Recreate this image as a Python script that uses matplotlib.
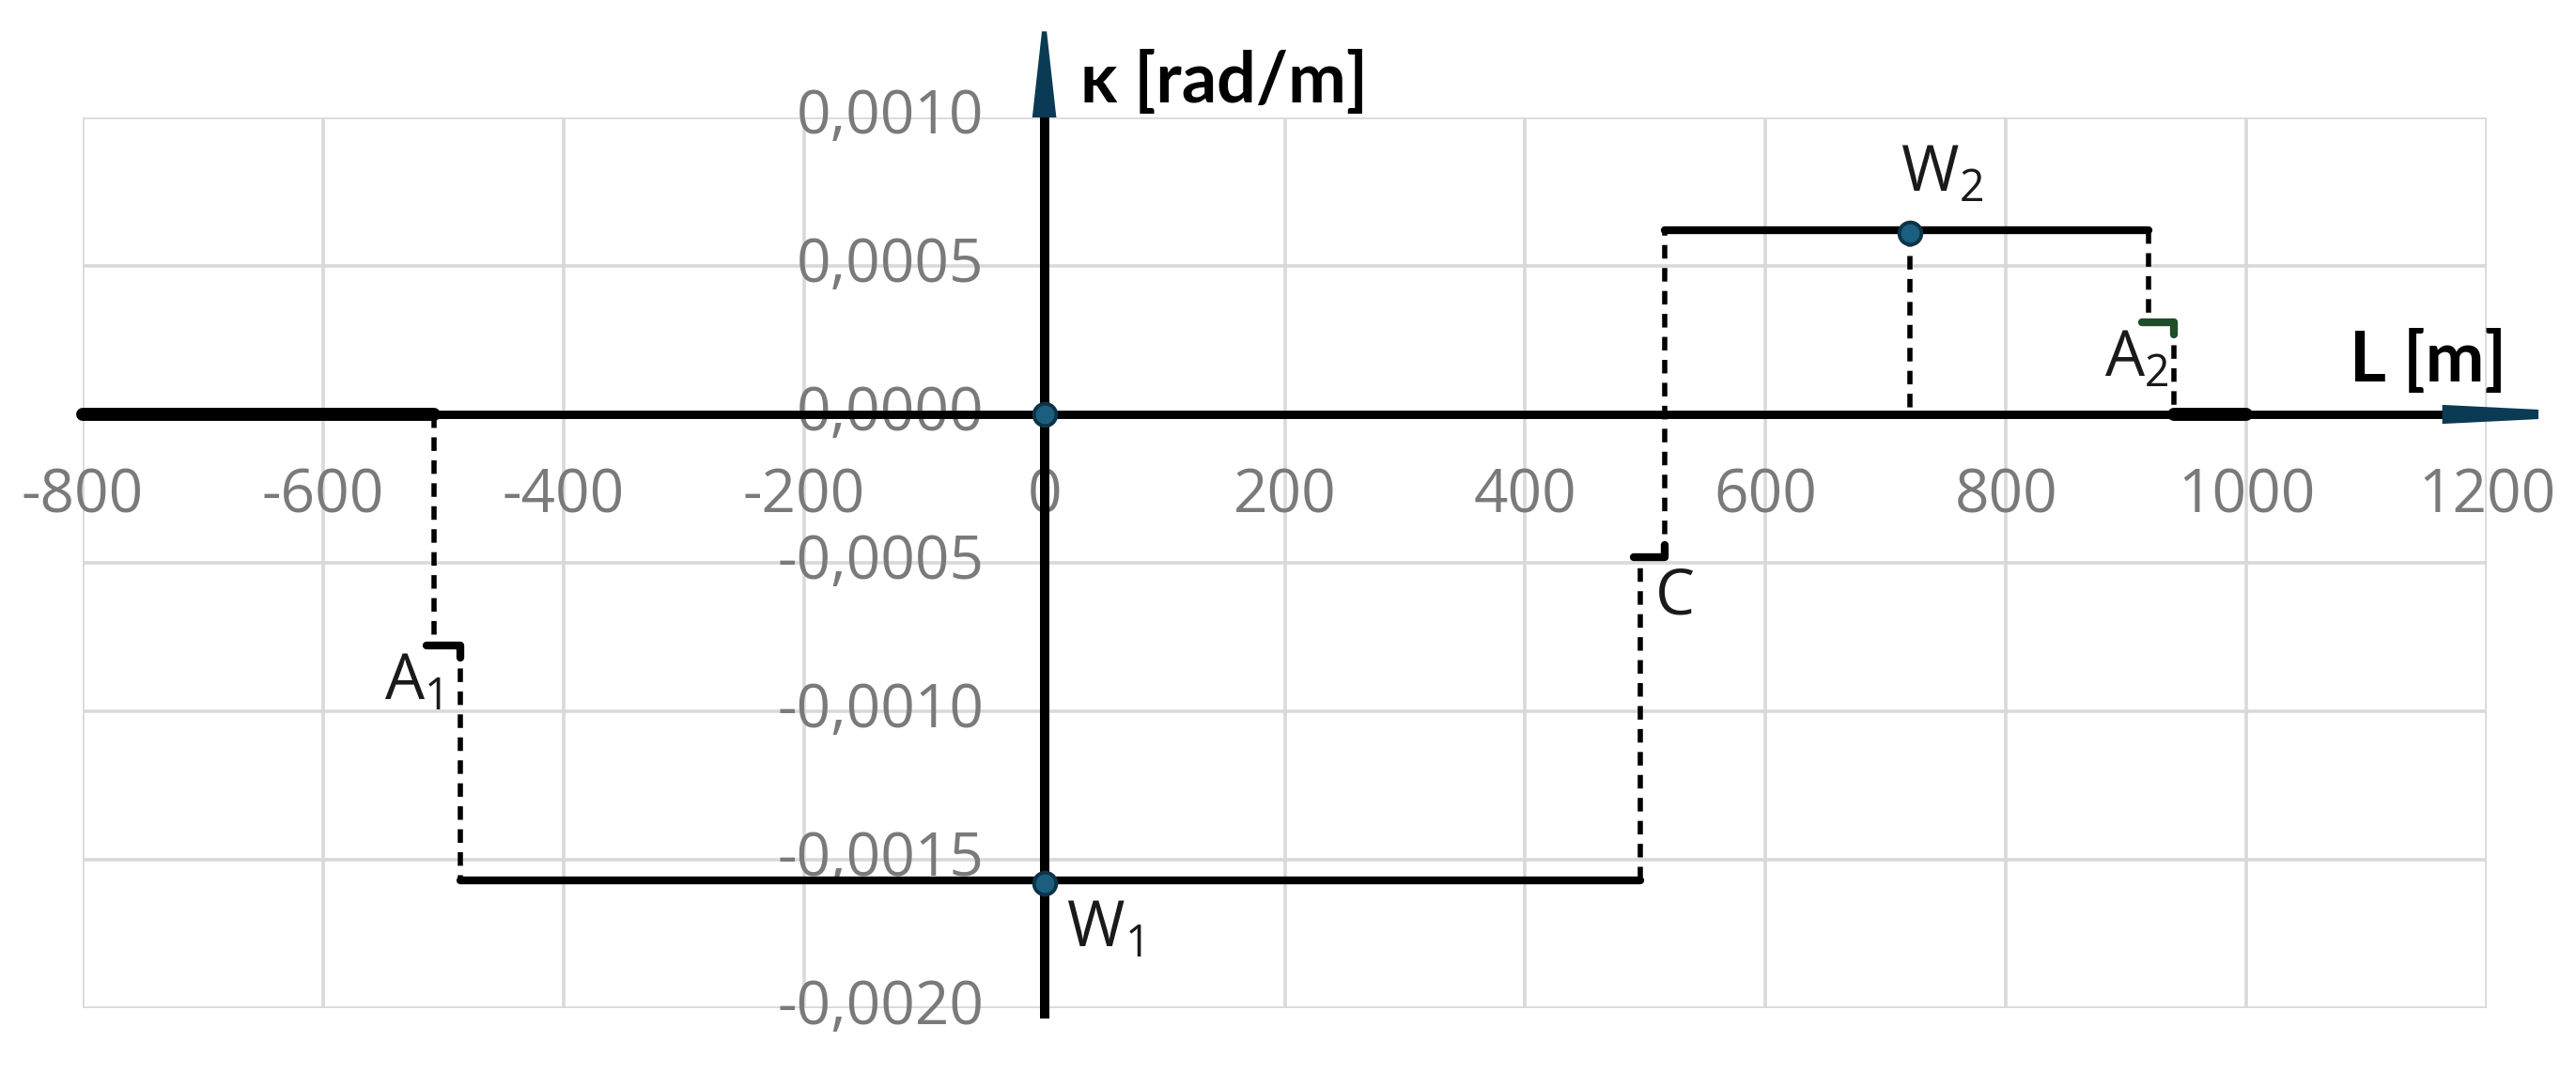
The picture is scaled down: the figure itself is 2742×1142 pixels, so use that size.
import matplotlib
matplotlib.use("Agg")
import matplotlib.pyplot as plt
from matplotlib.ticker import FixedLocator, FuncFormatter

# ---------------- data ----------------
x_ticks = [-800, -600, -400, -200, 0, 200, 400, 600, 800, 1000, 1200]
k_ticks = [-0.0020, -0.0015, -0.0010, -0.0005, 0.0, 0.0005, 0.0010]

# constant-curvature segments (solid)
seg_start = [-800, -486, 516, 940]
seg_end = [-508, 496, 919, 1000]
seg_k = [0.0, -0.00157, 0.00062, 0.0]

# transition curves (dashed verticals + short tick)
tr_x1 = [-508, 496, 919]
tr_x2 = [-486, 516, 940]
tr_from = [0.0, -0.00157, 0.00062]
tr_mid = [-0.00078, -0.00048, 0.00031]
tr_to = [-0.00157, 0.00062, 0.0]
tr_names = ["A$_\\mathregular{1}$", "C", "A$_\\mathregular{2}$"]

# characteristic points
pt_x = [0, 0, 720]
pt_k = [0.0, -0.00158, 0.00061]

# ---------------- style ----------------
plt.rcParams["font.family"] = ["Open Sans", "DejaVu Sans"]
plt.rcParams["mathtext.fontset"] = "custom"
plt.rcParams["mathtext.rm"] = "Open Sans"

W, H, DPI = 2742, 1142, 200
fig = plt.figure(figsize=(W / DPI, H / DPI), dpi=DPI)
ax = fig.add_axes([88 / W, 1 - 1073 / H, (2647 - 88) / W, (1073 - 125) / H])
ax.set_xlim(-800, 1200)
ax.set_ylim(-0.0020, 0.0010)

ax.xaxis.set_major_locator(FixedLocator(x_ticks))
ax.yaxis.set_major_locator(FixedLocator(k_ticks))
ax.grid(True, color="#d9d9d9", lw=1.3, zorder=0)
ax.set_axisbelow(True)

def kfmt(v, _):
    s = f"{abs(v):.4f}".replace(".", ",")
    return ("-" if v < -1e-12 else "") + s

ax.yaxis.set_major_formatter(FuncFormatter(kfmt))
ax.xaxis.set_major_formatter(FuncFormatter(lambda v, _: f"{int(v)}"))

for s in ["top", "right"]:
    ax.spines[s].set_visible(False)
ax.spines["left"].set_position(("data", 0))
ax.spines["bottom"].set_position(("data", 0))
ax.spines["left"].set_linewidth(3.6)
ax.spines["bottom"].set_linewidth(3.2)
ax.spines["left"].set_bounds(-0.00202, 0.0010)
ax.spines["bottom"].set_bounds(-800, 1163)
ax.spines["left"].set_zorder(3)
ax.spines["bottom"].set_zorder(3)
ax.tick_params(axis="both", length=0, labelsize=23, labelcolor="#7a7a7a")
ax.tick_params(axis="y", pad=23)
ax.tick_params(axis="x", pad=20)
for lab in ax.get_yticklabels():
    lab.set_verticalalignment("center")

# axis arrows
navy = "#0b3a55"
ax.fill([1163, 1243, 1243, 1163], [0.000032, 0.000016, -0.000016, -0.000032],
        color=navy, clip_on=False, zorder=5, lw=0)
ax.fill([-10, 10, 2, -2], [0.0010, 0.0010, 0.00129, 0.00129],
        color=navy, clip_on=False, zorder=5, lw=0)

# solid segments
seg_lw = [5.0, 3.0, 3.0, 5.0]
for xs, xe, k, lw in zip(seg_start, seg_end, seg_k, seg_lw):
    ax.plot([xs, xe], [k, k], color="black", lw=lw, solid_capstyle="round",
            zorder=4, clip_on=False)

# transitions
dash = (0, (2.6, 1.8))
dlw = 2.0
tick_col = ["black", "black", "#1f4d2a"]
for x1, x2, k0, km, k1, c in zip(tr_x1, tr_x2, tr_from, tr_mid, tr_to, tick_col):
    ax.plot([x1, x1], [k0, km], color="black", lw=dlw, ls=dash, zorder=4)
    ax.plot([x2, x2], [km, k1], color="black", lw=dlw, ls=dash, zorder=4)
    sgn = 1 if k1 > km else -1
    ax.plot([x1 - 6, x2, x2], [km, km, km + sgn * 0.00004], color=c, lw=3.0,
            solid_capstyle="round", solid_joinstyle="round", zorder=4)

# W2 drop line
ax.plot([pt_x[2], pt_x[2]], [pt_k[2], 0], color="black", lw=dlw, ls=dash, zorder=4)

# points
ax.plot(pt_x, pt_k, ls="none", marker="o", ms=8.5, mfc="#1b5e7e", mec="#0d3347",
        mew=1.4, zorder=6, clip_on=False)

# labels
lab_kw = dict(fontsize=24, color="#1a1a1a", zorder=7)
ax.text(-549, -0.00080, tr_names[0], ha="left", va="top", **lab_kw)
ax.text(508, -0.00051, tr_names[1], ha="left", va="top", **lab_kw)
ax.text(882, 0.00029, tr_names[2], ha="left", va="top", **lab_kw)
ax.text(18, -0.00163, "W$_\\mathregular{1}$", ha="left", va="top", **lab_kw)
ax.text(712, 0.00070, "W$_\\mathregular{2}$", ha="left", va="bottom", **lab_kw)

bold_kw = dict(fontweight="bold", color="black",
               family=["Lato", "DejaVu Sans"], clip_on=False, zorder=7)
ax.text(30, 0.00105, "κ [rad/m]", ha="left", va="baseline", fontsize=26.5, **bold_kw)
ax.text(1086, 0.00011, "L [m]", ha="left", va="baseline", fontsize=27, **bold_kw)

fig.savefig("out.png", dpi=DPI)
